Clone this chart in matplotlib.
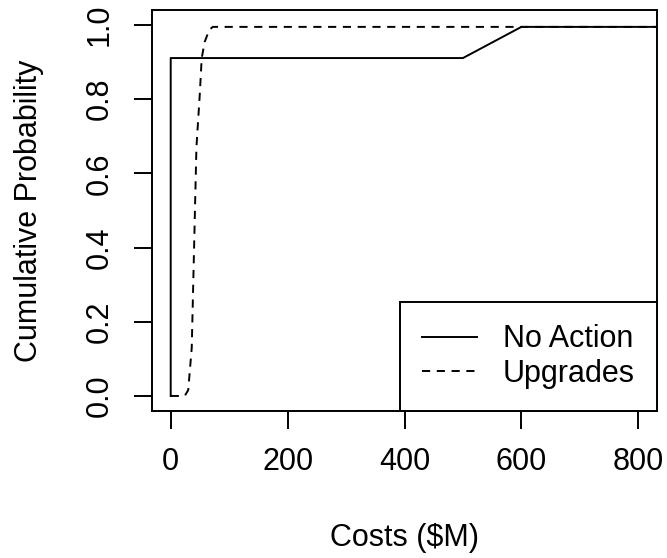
import matplotlib
matplotlib.use("Agg")
import matplotlib.pyplot as plt

plt.rcParams['font.family'] = ['Liberation Sans', 'DejaVu Sans']

# cost values ($M) and cumulative probabilities
no_action_cost = [0, 0, 500, 600, 850]
no_action_prob = [0.0, 0.911, 0.911, 0.995, 0.995]

upgrades_cost = [0, 24, 30, 36, 40, 44, 50, 53, 58, 66, 72, 850]
upgrades_prob = [0.0, 0.0, 0.016, 0.13, 0.40, 0.67, 0.82, 0.91, 0.954, 0.987, 0.995, 0.995]

xticks = [0, 200, 400, 600, 800]
yticks = [0.0, 0.2, 0.4, 0.6, 0.8, 1.0]

fig = plt.figure(figsize=(6.67, 5.58), dpi=100)
ax = fig.add_axes([152/667, 1-410.8/558, (657-152)/667, (410.8-10.2)/558])

lw = 1.4
ax.plot(no_action_cost, no_action_prob, color='black', lw=lw, label='No Action')
ax.plot(upgrades_cost, upgrades_prob, color='black', lw=lw,
        linestyle=(0, (4.2, 3.4)), label='Upgrades')

ax.set_xlim(-32, 832)
ax.set_ylim(-0.04, 1.04)
ax.set_xticks(xticks)
ax.set_xticklabels([str(t) for t in xticks])
ax.set_yticks(yticks)
ax.set_yticklabels(['%.1f' % t for t in yticks], rotation=90, va='center')

for s in ax.spines.values():
    s.set_linewidth(lw)
ax.tick_params(length=13, width=lw, labelsize=22, pad=13)
ax.tick_params(axis='y', pad=14)

ax.set_xlabel('Costs ($M)', fontsize=22, labelpad=33)
ax.set_ylabel('Cumulative Probability', fontsize=22, labelpad=29)

leg = ax.legend(loc='lower right', fontsize=22, frameon=True, fancybox=False,
                edgecolor='black', framealpha=1, borderaxespad=0,
                handlelength=1.8, handletextpad=0.85, borderpad=0.72,
                labelspacing=0.15)
leg.get_frame().set_linewidth(lw)

fig.savefig('out.png', dpi=100)
